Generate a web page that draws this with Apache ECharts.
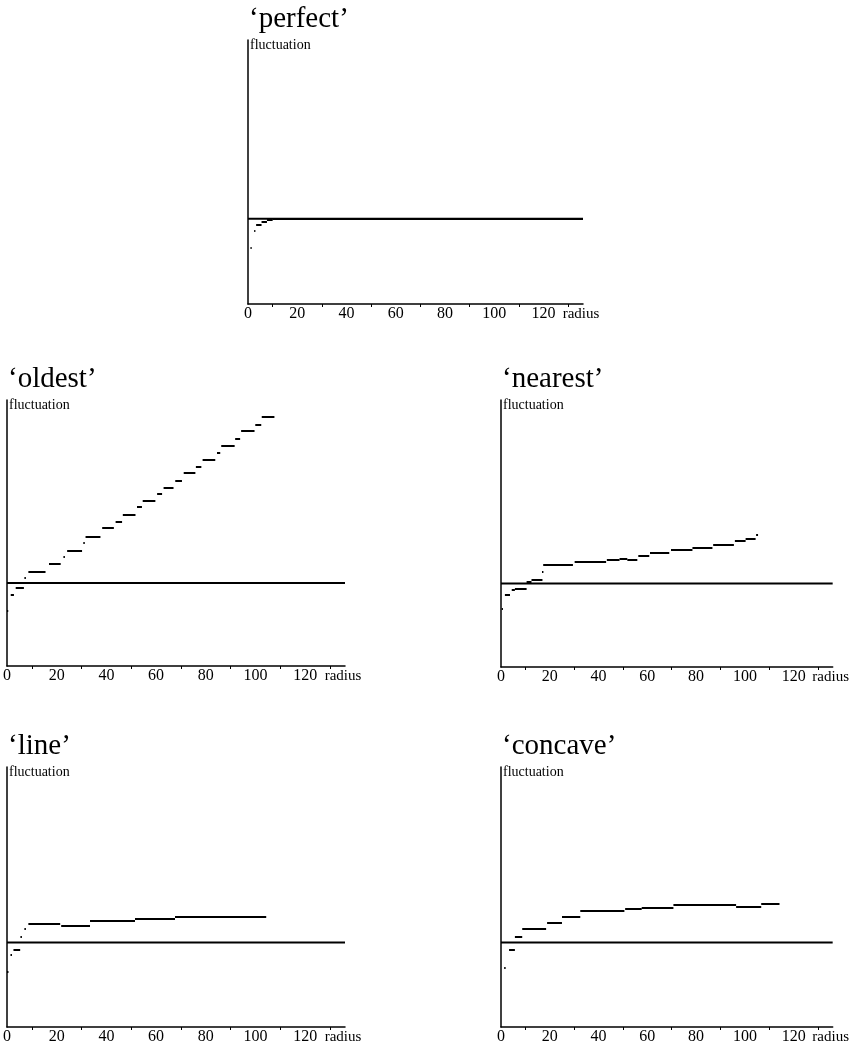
<!DOCTYPE html>
<html>
<head>
<meta charset="utf-8">
<script src="https://cdn.jsdelivr.net/npm/echarts@6/dist/echarts.min.js"></script>
<style>
html, body { margin: 0; padding: 0; background: #fff; }
#chartDom { width: 850px; height: 1050px; }
</style>
</head>
<body>
<div id="chartDom"></div>
<script>
// panel titles
const panelNames = ['perfect', 'oldest', 'nearest', 'line', 'concave'];
// x axis: labelled every 20, small ticks on the odd tens
const xTickLabels = [0, 20, 40, 60, 80, 100, 120];
const xMinorTicks = [10, 30, 50, 70, 90, 110, 130];
const radiusMax = 136;
const referenceLevel = 1;
const yMaxes = [3.1, 3.2, 3.2, 3.08, 3.08];

// step curves: [radius from, radius to, fluctuation]
const perfectSteps = [
  [1.0, 1.5, 0.66], [2.5, 3.0, 0.86], [3.3, 5.5, 0.93], [5.5, 7.7, 0.96],
  [7.7, 10, 0.99], [10, 136, 1.0]
];
const oldestSteps = [
  [0, 0.5, 0.67], [1.5, 2.8, 0.855], [3.5, 6.8, 0.94], [7.0, 7.6, 1.06],
  [8.6, 15.5, 1.13], [16.9, 21.6, 1.23], [22.7, 23.3, 1.31], [24.2, 30.2, 1.39],
  [30.7, 31.3, 1.48], [31.6, 37.6, 1.56], [38.3, 43.0, 1.66], [43.7, 46.3, 1.73],
  [46.6, 51.7, 1.82], [52.3, 54.3, 1.91], [54.6, 59.7, 1.99], [60.4, 62.4, 2.07],
  [63.0, 67.0, 2.15], [67.7, 70.4, 2.23], [71.1, 75.8, 2.32], [76.0, 78.2, 2.40],
  [78.7, 83.8, 2.48], [84.5, 85.8, 2.57], [86.2, 91.6, 2.65], [91.8, 93.8, 2.73],
  [94.2, 99.6, 2.83], [99.9, 102.3, 2.90], [102.5, 107.6, 3.00]
];
const nearestSteps = [
  [0.3, 0.8, 0.70], [1.6, 3.7, 0.86], [4.4, 5.7, 0.92], [5.7, 10.5, 0.94],
  [10.5, 12.5, 1.02], [12.5, 17.0, 1.05], [16.8, 17.4, 1.14], [17.3, 29.5, 1.23],
  [30.2, 43.1, 1.26], [43.4, 48.6, 1.29], [48.6, 51.8, 1.30], [51.8, 55.9, 1.29],
  [56.3, 60.8, 1.33], [61.1, 69.0, 1.37], [69.7, 78.5, 1.40], [78.5, 86.7, 1.43],
  [87.0, 95.5, 1.47], [95.9, 100.3, 1.51], [100.3, 104.4, 1.54], [104.6, 105.4, 1.58]
];
const lineSteps = [
  [0, 0.6, 0.66], [1.4, 2.0, 0.86], [2.6, 5.3, 0.92], [5.4, 6.0, 1.07],
  [7.0, 7.6, 1.16], [8.6, 21.4, 1.22], [21.8, 33.4, 1.20], [33.4, 51.5, 1.26],
  [51.5, 67.6, 1.28], [67.6, 104.3, 1.31]
];
const concaveSteps = [
  [1.3, 1.9, 0.70], [3.3, 5.7, 0.91], [5.7, 8.7, 1.07], [8.7, 18.5, 1.16],
  [18.9, 25.0, 1.23], [25.0, 32.5, 1.31], [32.5, 50.6, 1.38], [50.9, 57.7, 1.40],
  [57.7, 70.7, 1.41], [70.7, 96.4, 1.45], [96.4, 106.7, 1.43], [106.7, 114.2, 1.46]
];
const allSteps = [perfectSteps, oldestSteps, nearestSteps, lineSteps, concaveSteps];

// where each little plot sits on the page
const boxes = [
  { left: 248, top: 40, width: 335, height: 264 },
  { left: 7, top: 400, width: 338, height: 266 },
  { left: 501, top: 400, width: 334, height: 267 },
  { left: 7, top: 767, width: 338, height: 260 },
  { left: 501, top: 767, width: 332, height: 260 }
];

const serif = '"Liberation Serif", "Times New Roman", serif';
let chart = echarts.init(document.getElementById('chartDom'));

let grid = [], xAxis = [], yAxis = [], title = [], series = [];
panelNames.forEach((name, i) => {
  const b = boxes[i];
  grid.push({ left: b.left, top: b.top, width: b.width, height: b.height });
  title.push({
    text: '\u2018' + name + '\u2019',
    left: b.left + 1,
    top: b.top - 35,
    padding: 0,
    textStyle: { fontFamily: serif, fontSize: 29, fontWeight: 'normal', color: '#000' }
  });
  xAxis.push({
    type: 'value', gridIndex: i, min: 0, max: radiusMax,
    name: 'radius', nameLocation: 'end', nameGap: -2,
    nameTextStyle: { fontFamily: serif, fontSize: 15, color: '#000', align: 'center', verticalAlign: 'top', padding: [3, 0, 0, 0] },
    axisLine: { lineStyle: { color: '#000', width: 1.5 } },
    axisTick: { show: true, customValues: xMinorTicks, length: 3, lineStyle: { color: '#000', width: 1 } },
    axisLabel: { customValues: xTickLabels, margin: 2, fontFamily: serif, fontSize: 16, color: '#000' },
    splitLine: { show: false }
  });
  yAxis.push({
    type: 'value', gridIndex: i, min: 0, max: yMaxes[i],
    name: 'fluctuation', nameLocation: 'end', nameGap: 2,
    nameTextStyle: { fontFamily: serif, fontSize: 14, color: '#000', align: 'left', verticalAlign: 'top', padding: [0, 0, 0, 2] },
    axisLine: { show: true, lineStyle: { color: '#000', width: 1.5 } },
    axisTick: { show: false },
    axisLabel: { show: false },
    splitLine: { show: false }
  });
  series.push({
    type: 'line', xAxisIndex: i, yAxisIndex: i, silent: true,
    symbol: 'none',
    data: [[0, referenceLevel], [radiusMax, referenceLevel]],
    lineStyle: { color: '#000', width: 2 }
  });
  series.push({
    type: 'lines', coordinateSystem: 'cartesian2d', xAxisIndex: i, yAxisIndex: i, silent: true,
    data: allSteps[i].map(s => ({ coords: [[s[0], s[2]], [s[1], s[2]]] })),
    lineStyle: { color: '#000', width: 2, opacity: 1, curveness: 0 }
  });
});

chart.setOption({
  animation: false,
  backgroundColor: '#fff',
  title: title,
  grid: grid,
  xAxis: xAxis,
  yAxis: yAxis,
  series: series
});
</script>
</body>
</html>
